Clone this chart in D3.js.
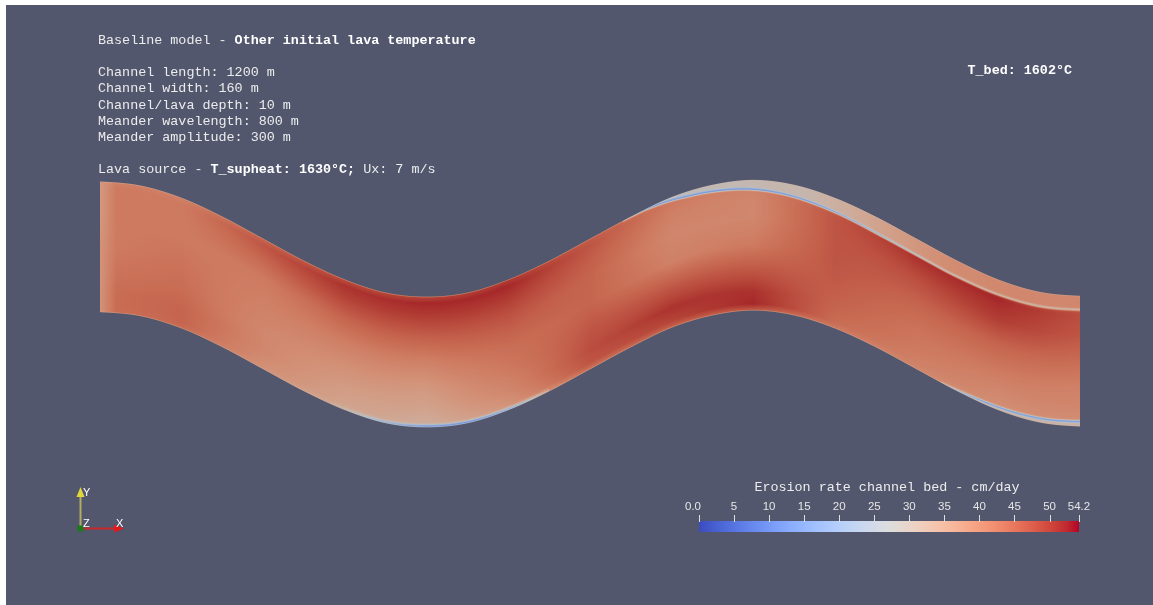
<!DOCTYPE html>
<html><head><meta charset="utf-8">
<script src="https://cdn.jsdelivr.net/npm/d3@7"></script>
<style>
html,body{margin:0;padding:0;background:#fff;overflow:hidden}
#wrap{position:relative;width:1153px;height:605px}
#wrap canvas,#wrap svg{position:absolute;left:0;top:0}
</style></head><body><div id="wrap"></div>
<script>
// ---------------- data ----------------
const headerLine = [["Baseline model - ", false], ["Other initial lava temperature", true]];
const infoLines = ["Channel length: 1200 m", "Channel width: 160 m", "Channel/lava depth: 10 m",
  "Meander wavelength: 800 m", "Meander amplitude: 300 m"];
const sourceLine = [["Lava source - ", false], ["T_supheat:", true], [" ", false], ["1630°C;", true], [" Ux: 7 m/s", false]];
const bedLine = "T_bed: 1602°C";
const colorbarTitle = "Erosion rate channel bed - cm/day";
const colorbarTicks = [0, 5, 10, 15, 20, 25, 30, 35, 40, 45, 50, 54.2];
const valueRange = [0, 54.2];

// channel centreline (metres)
const centerStationsM = [0,50,100,150,200,250,300,350,400,450,500,550,600,650,700,750,800,850,900,950,1000,1050,1100,1150,1200];
const centerOffsetM   = [70,65,50,27,0,-27,-50,-66,-71,-66,-50,-27,0,27,51,66,72,66,50,27,0,-27,-50,-65,-70];
const channelWidthM = 160;

// erosion rate (cm/day) estimated on stations along the channel (rows) x cross-channel positions (cols, 0 = upper bank)
const stationsM = [0,20,100,200,300,400,500,600,700,800,900,1000,1100,1200];
const crossN = [0,0.05,0.15,0.3,0.5,0.7,0.85,0.95,1];
const erosionGrid = [
  [37,37,37,37,38,38,38,38,38],
  [41,42,42,42,42,43,44,44,44],
  [41,42,42,42,43,44,45,45,44],
  [45,47,45,42,41,40,40,39,38],
  [48,51,49,45,41,38,36,35,33],
  [49,52,50,46,41,37,35,33,32],
  [50,52,50,47,44,42,40,38,35],
  [46,47,46,45,45,47,48,47,43],
  [42,42,41,40,41,47,51,49,45],
  [41,41,40,40,42,47,51,52,46],
  [45,46,47,47,47,46,45,44,42],
  [48,50,51,48,45,43,42,41,40],
  [48,50,52,50,45,42,40,39,37],
  [44,46,48,47,44,41,40,39,37]
];
// thin features near the banks
const topLineM      = [640, 665, 720, 792, 873, 955, 1037, 1118, 1200];
const topLineDepthM = [0, 0, 6, 11, 16, 20, 20, 18, 17];
const topLineValue  = [32, 17, 15, 15, 16, 22, 28, 31, 31];
const topStripValue = [32, 26, 28, 29, 30, 35, 39, 40, 40];
const botLineM       = [1030, 1080, 1140, 1200];
const botLineHeightM = [0, 3, 5, 6];
const botLineValue   = [30, 17, 16, 16];
const botStripValue  = [32, 31, 31, 31];
const botEdgeM     = [280, 340, 400, 460, 510, 550];
const botEdgeValue = [34, 22, 14, 14, 21, 34];

// Cool to Warm colour map
const coolWarm = [[59,76,192],[68,90,204],[77,104,215],[87,117,225],[98,130,234],[108,142,241],[119,154,247],[130,165,251],[141,176,254],[152,185,255],[163,194,255],[174,201,253],[184,208,249],[194,213,244],[204,217,238],[213,219,230],[221,221,221],[229,216,209],[236,211,197],[241,204,185],[245,196,173],[247,187,160],[247,177,148],[247,166,135],[244,154,123],[241,141,111],[236,127,99],[229,112,88],[222,96,77],[213,80,66],[203,62,56],[192,40,47],[180,4,38]];

// ---------------- drawing ----------------
const W = 1153, H = 605;
const wrap = d3.select("#wrap");
const canvas = wrap.append("canvas").attr("width", W).attr("height", H).node();
const ctx = canvas.getContext("2d");
const svg = wrap.append("svg").attr("width", W).attr("height", H);

const bg = [82, 87, 110];
ctx.fillStyle = "#fff"; ctx.fillRect(0, 0, W, H);
ctx.fillStyle = `rgb(${bg})`; ctx.fillRect(6, 5, W - 6, H - 5);

const x = d3.scaleLinear().domain([0, 1200]).range([100, 1080]);
const y = d3.scaleLinear().domain([-250, 250]).range([304 + 204.1667, 304 - 204.1667]);
const pxPerM = 980 / 1200;

const color = d3.scaleLinear()
  .domain(coolWarm.map((c, i) => valueRange[0] + (valueRange[1] - valueRange[0]) * i / (coolWarm.length - 1)))
  .range(coolWarm.map(c => `rgb(${c[0]},${c[1]},${c[2]})`)).interpolate(d3.interpolateRgb).clamp(true);

// centreline via Catmull-Rom through stations
function centerAt(m) {
  const step = 50;
  let i = Math.floor(m / step); i = Math.max(0, Math.min(centerOffsetM.length - 2, i));
  const t = (m - centerStationsM[i]) / step;
  const p0 = centerOffsetM[Math.max(0, i - 1)], p1 = centerOffsetM[i], p2 = centerOffsetM[i + 1], p3 = centerOffsetM[Math.min(centerOffsetM.length - 1, i + 2)];
  return 0.5 * ((2 * p1) + (-p0 + p2) * t + (2 * p0 - 5 * p1 + 4 * p2 - p3) * t * t + (-p0 + 3 * p1 - 3 * p2 + p3) * t * t * t);
}
function gridValue(m, n) {
  let i = d3.bisectRight(stationsM, m) - 1; i = Math.max(0, Math.min(stationsM.length - 2, i));
  let t = (m - stationsM[i]) / (stationsM[i + 1] - stationsM[i]); t = Math.max(0, Math.min(1, t));
  let j = d3.bisectRight(crossN, n) - 1; j = Math.max(0, Math.min(crossN.length - 2, j));
  let u = (n - crossN[j]) / (crossN[j + 1] - crossN[j]); u = Math.max(0, Math.min(1, u));
  const a = erosionGrid[i][j] * (1 - u) + erosionGrid[i][j + 1] * u;
  const b = erosionGrid[i + 1][j] * (1 - u) + erosionGrid[i + 1][j + 1] * u;
  return a * (1 - t) + b * t;
}
const lin = (d, r) => d3.scaleLinear().domain(d).range(r).clamp(true);
const topDepth = lin(topLineM, topLineDepthM), topVal = lin(topLineM, topLineValue), topStrip = lin(topLineM, topStripValue);
const botHeight = lin(botLineM, botLineHeightM), botVal = lin(botLineM, botLineValue), botStrip = lin(botLineM, botStripValue);
const botEdgeVal = lin(botEdgeM, botEdgeValue);

const shade = 0.85;
const img = ctx.getImageData(0, 0, W, H);
const data = img.data;
for (let px = Math.round(x(0)); px < Math.round(x(1200)); px++) {
  const m = x.invert(px + 0.5);
  const c = centerAt(m);
  const topPx = y(c + channelWidthM / 2), botPx = y(c - channelWidthM / 2);
  for (let py = Math.floor(topPx); py <= Math.ceil(botPx); py++) {
    const yc = py + 0.5;
    const cov = Math.max(0, Math.min(1, Math.min(yc + 0.5, botPx) - Math.max(yc - 0.5, topPx)));
    if (cov <= 0) continue;
    const n = Math.max(0, Math.min(1, (yc - topPx) / (botPx - topPx)));
    const depth = Math.max(0, yc - topPx) / pxPerM;
    const height = Math.max(0, botPx - yc) / pxPerM;
    let v = gridValue(m, n);
    if (m >= topLineM[0]) {
      const ld = topDepth(m);
      if (depth < ld) v = topStrip(m);
      const d = Math.abs(depth - ld);
      const w = Math.exp(-(d / 1.6) * (d / 1.6));
      v = v * (1 - w) + topVal(m) * w;
    }
    if (m >= botLineM[0]) {
      const lh = botHeight(m);
      if (height < lh) v = botStrip(m);
      const d = Math.abs(height - lh);
      const w = Math.exp(-(d / 1.6) * (d / 1.6));
      v = v * (1 - w) + botVal(m) * w;
    }
    if (m >= botEdgeM[0] && m <= botEdgeM[botEdgeM.length - 1]) {
      const d = Math.abs(height - 1.2);
      const w = Math.exp(-(d / 2.2) * (d / 2.2));
      v = v * (1 - w) + botEdgeVal(m) * w;
    }
    const de = Math.min(yc - topPx, botPx - yc);
    if (de < 1.2) v = v * (1 - 0.45 * (1 - de / 1.2)) + 31 * 0.45 * (1 - de / 1.2);
    const col = d3.rgb(color(v));
    const k = (py * W + px) * 4;
    data[k] = col.r * shade * cov + bg[0] * (1 - cov);
    data[k + 1] = col.g * shade * cov + bg[1] * (1 - cov);
    data[k + 2] = col.b * shade * cov + bg[2] * (1 - cov);
    data[k + 3] = 255;
  }
}
ctx.putImageData(img, 0, 0);

// ---------------- text ----------------
const mono = "'Courier New', 'Liberation Mono', monospace";
const txtColor = "#ececec";
function richText(parts, tx, ty, anchor) {
  const t = svg.append("text").attr("x", tx).attr("y", ty).attr("font-family", mono).attr("font-size", 13.4)
    .attr("fill", txtColor).attr("text-anchor", anchor || "start").style("white-space", "pre");
  parts.forEach(p => t.append("tspan").text(p[0]).attr("font-weight", p[1] ? "bold" : "normal").attr("fill", p[1] ? "#ffffff" : txtColor));
  return t;
}
richText(headerLine, 98, 44);
infoLines.forEach((s, i) => richText([[s, false]], 98, 76 + i * 16.3));
richText(sourceLine, 98, 173);
richText([[bedLine, true]], 1072, 74, "end");

// ---------------- colour bar ----------------
const cb = d3.scaleLinear().domain(valueRange).range([699, 1079]);
const grad = svg.append("defs").append("linearGradient").attr("id", "cw").attr("x1", "0%").attr("x2", "100%");
coolWarm.forEach((c, i) => grad.append("stop").attr("offset", (100 * i / (coolWarm.length - 1)) + "%").attr("stop-color", `rgb(${c})`));
svg.append("rect").attr("x", cb(valueRange[0])).attr("y", 521).attr("width", cb(valueRange[1]) - cb(valueRange[0])).attr("height", 11).attr("fill", "url(#cw)");
svg.append("text").attr("x", (cb(0) + cb(54.2)) / 2 - 2).attr("y", 491).attr("text-anchor", "middle")
  .attr("font-family", mono).attr("font-size", 13.4).attr("fill", txtColor).text(colorbarTitle);
const tk = svg.append("g");
colorbarTicks.forEach(v => {
  tk.append("line").attr("x1", Math.round(cb(v)) + 0.5).attr("x2", Math.round(cb(v)) + 0.5).attr("y1", 515).attr("y2", 522)
    .attr("stroke", "#e0e0e0").attr("stroke-width", 1);
  tk.append("text").attr("x", v === 0 ? cb(v) - 6 : cb(v)).attr("y", 510).attr("text-anchor", "middle")
    .attr("font-family", "'Liberation Sans', Arial, sans-serif").attr("font-size", 11.5).attr("fill", "#e6e6e6")
    .text(v === 0 ? "0.0" : (Number.isInteger(v) ? String(v) : v.toFixed(1)));
});

// ---------------- orientation axes ----------------
const ax = svg.append("g");
ax.append("line").attr("x1", 80.5).attr("y1", 528).attr("x2", 80.5).attr("y2", 495).attr("stroke", "#b3ac62").attr("stroke-width", 2);
ax.append("path").attr("d", "M76.5,497 L84.5,497 L80.5,487 Z").attr("fill", "#e0d83a");
ax.append("line").attr("x1", 80.5).attr("y1", 528.5).attr("x2", 116).attr("y2", 528.5).attr("stroke", "#c8282a").attr("stroke-width", 2);
ax.append("path").attr("d", "M114,524.5 L114,532.5 L124,528.5 Z").attr("fill", "#e01a1a");
ax.append("rect").attr("x", 77.5).attr("y", 525.5).attr("width", 6).attr("height", 6).attr("fill", "#1a7a1a");
const lab = (s, lx, ly) => ax.append("text").attr("x", lx).attr("y", ly).attr("font-family", "'Liberation Sans', Arial, sans-serif")
  .attr("font-size", 11).attr("fill", "#ffffff").text(s);
lab("Y", 83, 496); lab("Z", 83, 527); lab("X", 116, 527);
</script></body></html>
